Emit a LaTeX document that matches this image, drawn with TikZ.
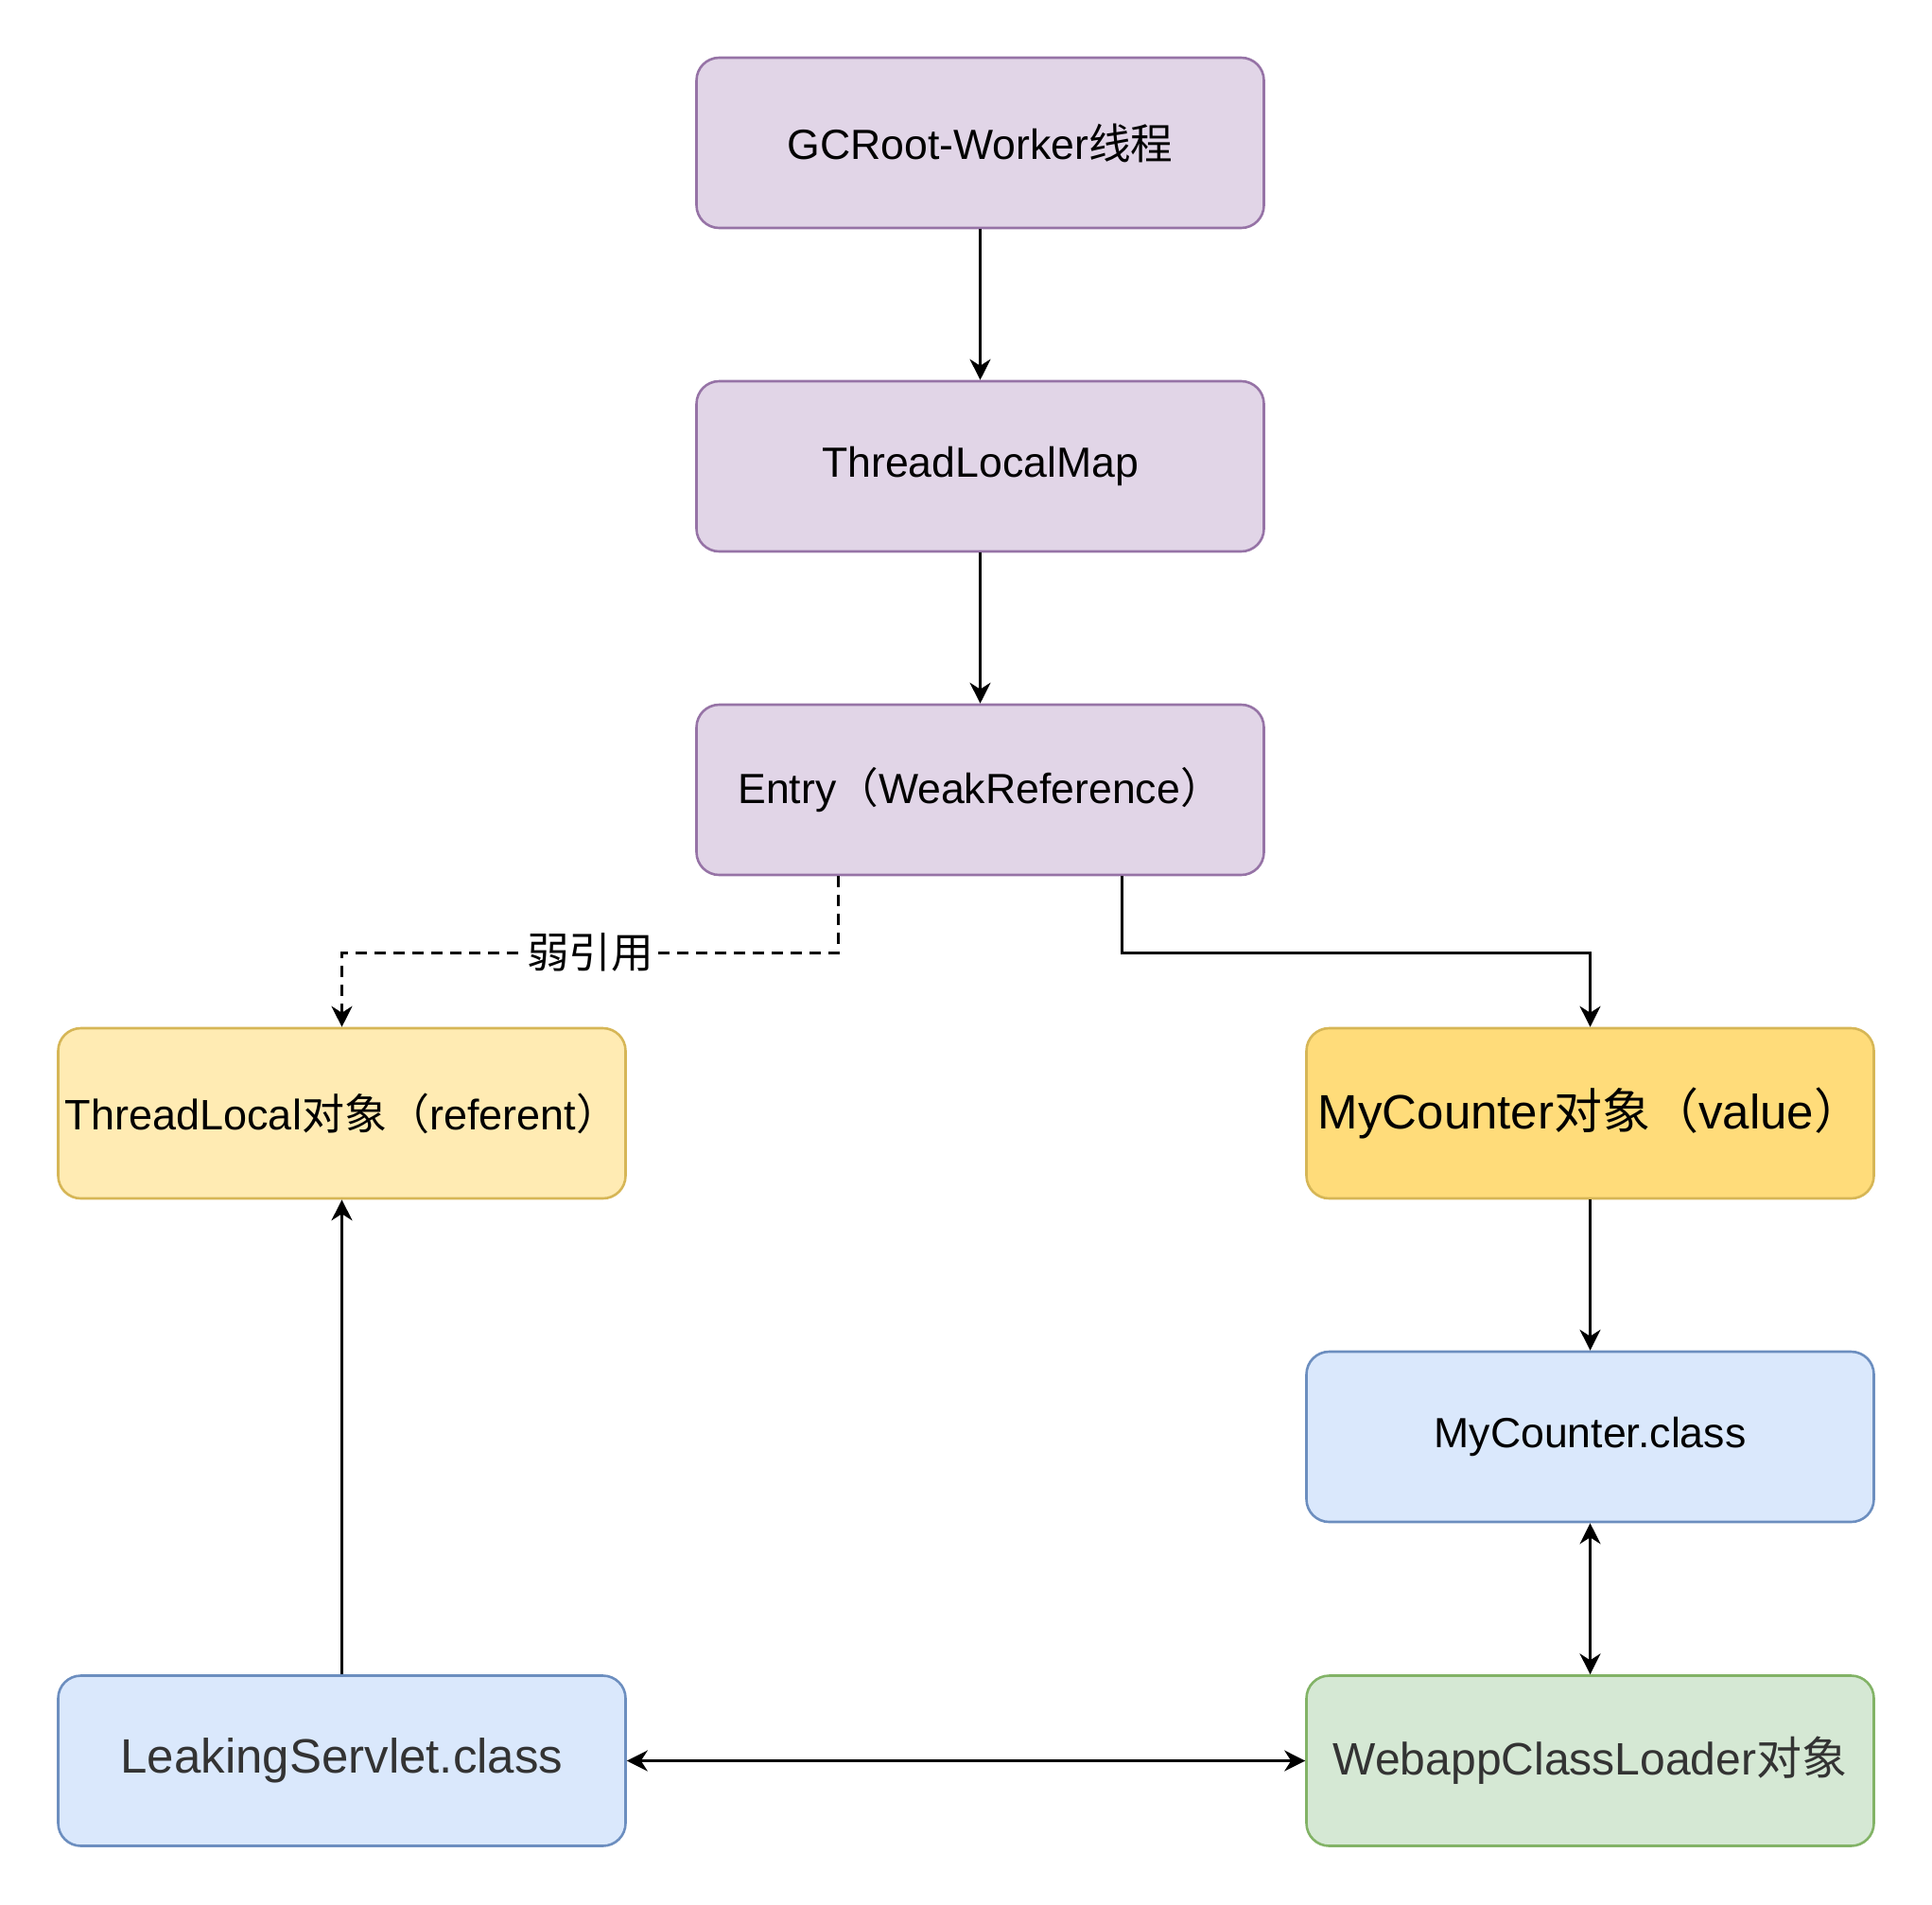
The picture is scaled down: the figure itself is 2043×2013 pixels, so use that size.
\documentclass[tikz,border=0pt]{standalone}
\usepackage{fontspec}
\setmainfont{Liberation Sans}
\newfontfamily\cjk{Noto Sans CJK SC}
\usetikzlibrary{arrows.meta}
\definecolor{purplefill}{HTML}{E1D5E7}
\definecolor{purpleline}{HTML}{9673A6}
\definecolor{yellowfill}{HTML}{FFEBB3}
\definecolor{goldfill}{HTML}{FFDC7A}
\definecolor{yellowline}{HTML}{D6B656}
\definecolor{bluefill}{HTML}{DAE8FC}
\definecolor{blueline}{HTML}{6C8EBF}
\definecolor{greenfill}{HTML}{D5E8D4}
\definecolor{greenline}{HTML}{82B366}
\definecolor{textgrey}{HTML}{333333}

\begin{document}
\begin{tikzpicture}[
  x=0.5pt, y=-0.5pt,
  box/.style={draw, rounded corners=12pt, line width=1.3pt, minimum width=300pt, minimum height=90pt, inner sep=0pt, align=center, font=\fontsize{22.3}{26}\selectfont},
  purplebox/.style={box, draw=purpleline, fill=purplefill},
  yellowbox/.style={box, draw=yellowline, fill=yellowfill, font=\fontsize{22.5}{26}\selectfont},
  goldbox/.style={box, draw=yellowline, fill=goldfill, font=\fontsize{25.5}{30}\selectfont},
  bluebox/.style={box, draw=blueline, fill=bluefill},
  greenbox/.style={box, draw=greenline, fill=greenfill, text=textgrey, font=\fontsize{24}{28}\selectfont},
  arr/.style={-{Stealth[length=11pt, width=11pt, inset=3.5pt]}, line width=1.3pt},
  biarr/.style={{Stealth[length=11pt, width=11pt, inset=3.5pt]}-{Stealth[length=11pt, width=11pt, inset=3.5pt]}, line width=1.3pt}
]
\useasboundingbox (0,0) rectangle (2043,2013);

\node[purplebox] (gc) at (1036.5,151) {GCRoot-Worker{\cjk 线程}};
\node[purplebox] (map) at (1036.5,493) {ThreadLocalMap};
\node[purplebox] (entry) at (1036.5,835) {Entry{\cjk （}WeakReference{\cjk ）}};
\node[yellowbox] (tl) at (361.5,1177) {ThreadLocal{\cjk 对象（}referent{\cjk ）}};
\node[goldbox] (val) at (1681.5,1177) {MyCounter{\cjk 对象（}value{\cjk ）}};
\node[bluebox] (cls) at (1681.5,1519) {MyCounter.class};
\node[bluebox, text=textgrey, font=\fontsize{25.5}{30}\selectfont] (servlet) at (361.5,1861.5) {LeakingServlet.class};
\node[greenbox] (loader) at (1681.5,1861.5) {WebappClassLoader{\cjk 对象}};

\draw[arr] (gc) -- (map);
\draw[arr] (map) -- (entry);
\draw[arr, dash pattern=on 6pt off 4pt] ([xshift=-75pt]entry.south) -- ++(0,81) -| (tl.north)
  node[pos=0.25, fill=white, inner sep=2pt, font=\cjk\fontsize{22.3}{26}\selectfont] {弱引用};
\draw[arr] ([xshift=75pt]entry.south) -- ++(0,81) -| (val.north);
\draw[arr] (val) -- (cls);
\draw[biarr] (cls) -- (loader);
\draw[biarr] (servlet) -- (loader);
\draw[arr] (servlet) -- (tl);
\end{tikzpicture}
\end{document}
